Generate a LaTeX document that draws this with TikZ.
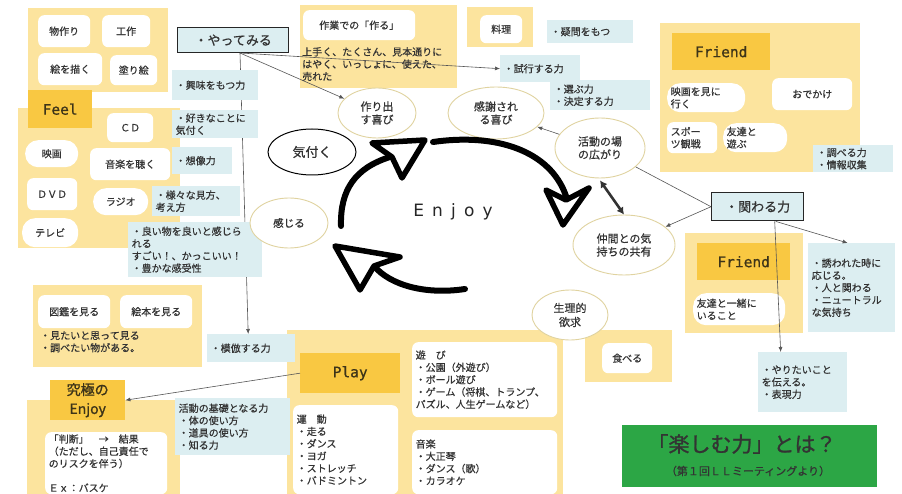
\documentclass[tikz,border=0pt]{standalone}
\usepackage{fontspec}
\setmainfont{Noto Sans CJK JP}[FakeBold=0.6]
\newfontfamily\monof{DejaVu Sans Mono}[FakeBold=0.8]
\newfontfamily\spacedf[LetterSpace=48]{DejaVu Sans}
\newfontfamily\titlef{Noto Sans CJK JP}[FakeBold=1.2]
\usetikzlibrary{arrows.meta,shapes.geometric,calc}
\pgfdeclarelayer{bgw}
\pgfdeclarelayer{bg}
\pgfsetlayers{bgw,bg,main}
\definecolor{ylight}{HTML}{FCE49E}
\definecolor{ydark}{HTML}{F9C842}
\definecolor{bluec}{HTML}{DCEEF1}
\definecolor{beige}{HTML}{E0D3A0}
\definecolor{greenc}{HTML}{2CA645}
\definecolor{txtc}{HTML}{333333}
\definecolor{hdrt}{HTML}{3D3418}
\definecolor{linec}{HTML}{555555}
\newcommand\tfont{\fontsize{10}{12.3}\selectfont}
\newcommand\BX[7]{\node[#1,anchor=north west,minimum width={#5-#3},minimum height={#6-#4}] (#2) at (#3,#4) {#7};}
\newcommand\BXL[7]{\node[#1,anchor=north west,minimum width={#5-#3},minimum height={#6-#4}] (#2) at (#3,#4) {};
  \node[txt,anchor=west] (#2t) at ([xshift=3.5pt]#2.west) {#7};}
\begin{document}
\begin{tikzpicture}[x=1pt,y=-1pt,
  panel/.style={fill=ylight,draw=none,inner sep=0pt},
  hdr/.style={fill=ydark,draw=none,inner sep=0pt,font=\monof\fontsize{14.5}{14.5}\selectfont,text=hdrt},
  wb/.style={fill=white,draw=none,rounded corners=6pt,font=\tfont,text=txtc,inner sep=0pt,align=center},
  pill/.style={wb,rounded corners=13pt},
  bb/.style={fill=bluec,draw=none,inner sep=0pt,font=\tfont,text=txtc},
  kbox/.style={fill=bluec,draw=black!85,line width=1.4pt,inner sep=0pt,font=\fontsize{13}{13}\selectfont,text=txtc},
  txt/.style={font=\tfont,text=txtc,align=left,inner sep=0pt},
  ell/.style={ellipse,draw=beige,line width=0.9pt,fill=white,font=\fontsize{11}{13}\selectfont,align=center,inner sep=0pt,text=txtc},
  con/.style={draw=linec,line width=0.6pt},
  arr/.style={con,-{Latex[length=5pt,width=4pt]}},
  big/.style={line width=6pt,line cap=round,line join=round,draw=black},
  bighead/.style={big,line width=5.5pt,fill=white}]
\useasboundingbox (0,0) rectangle (902,494);
\begin{pgfonlayer}{bgw}\fill[white] (0,0) rectangle (902,494);\end{pgfonlayer}

% ---------- panels ----------
\BX{panel}{p1}{28}{8}{168}{92}{}
\BX{panel}{pfeel}{18}{108}{180}{248}{}
\BX{panel}{pzukan}{33}{285}{202}{367}{}
\BX{panel}{pkyu}{27}{400}{180}{494}{}
\BX{panel}{psagyo}{300}{5}{457}{88}{}
\BX{panel}{pryori}{467}{7}{533}{47}{}
\BX{panel}{pfr1}{660}{23}{860}{172}{}
\BX{panel}{pfr2}{685}{233}{803}{333}{}
\BX{panel}{pplay}{287}{330}{563}{494}{}
\BX{panel}{ptaberu}{585}{330}{672}{382}{}

% ---------- headers ----------
\BX{hdr}{feel}{28}{90}{92}{128}{Feel}
\BX{hdr}{friend1}{672}{33}{770}{70}{Friend}
\BX{hdr}{friend2}{697}{243}{790}{280}{Friend}
\BX{hdr}{play}{300}{353}{400}{393}{Play}
\node[hdr,anchor=north west,minimum width=75,minimum height=40,align=center,font=\titlef\fontsize{14}{19}\selectfont] (kyu) at (50,380) {究極の\\Enjoy};

% ---------- white boxes ----------
\BX{wb}{monotsukuri}{38}{15}{90}{47}{物作り}
\BX{wb}{kousaku}{102}{15}{150}{47}{工作}
\BX{wb}{ewokaku}{38}{53}{102}{85}{絵を描く}
\BX{wb}{nurie}{110}{55}{157}{85}{塗り絵}
\BX{wb}{cd}{107}{113}{153}{142}{ＣＤ}
\BX{pill}{eiga}{25}{140}{78}{167}{映画}
\BX{wb}{ongaku}{90}{148}{170}{180}{音楽を聴く}
\BX{wb}{dvd}{27}{178}{77}{210}{ＤＶＤ}
\BX{pill}{radio}{93}{188}{148}{215}{ラジオ}
\BX{pill}{terebi}{22}{218}{78}{247}{テレビ}
\BX{wb}{zukan}{38}{295}{110}{328}{図鑑を見る}
\BX{wb}{ehon}{120}{295}{192}{328}{絵本を見る}
\node[txt,anchor=north west] (zukant) at (40,331) {・見たいと思って見る\\・調べたい物がある。};
\BXL{wb}{handan}{45}{432}{167}{494}{「判断」　→　結果\\（ただし、自己責任で\\のリスクを伴う）\\[12pt]Ｅｘ：バスケ}
\BX{wb}{sagyo}{303}{10}{415}{40}{作業での「作る」}
\node[txt,anchor=north west] (sagyot) at (302,47) {上手く、たくさん、見本通りに\\はやく、いっしょに、使えた、\\売れた};
\BX{wb}{ryori}{480}{15}{522}{43}{料理}
\BXL{pill}{eigami}{667}{83}{745}{112}{映画を見に\\行く}
\BX{wb}{odekake}{772}{78}{852}{110}{おでかけ}
\BXL{wb}{sports}{667}{122}{717}{153}{スポー\\ツ観戦}
\BXL{pill}{asobu}{723}{123}{787}{152}{友達と\\遊ぶ}
\BXL{pill}{issho}{693}{293}{785}{325}{友達と一緒に\\いること}
\BXL{wb}{undou}{293}{405}{398}{494}{運　動\\・走る\\・ダンス\\・ヨガ\\・ストレッチ\\・バドミントン}
\BXL{wb}{asobi}{412}{342}{557}{417}{遊　び\\・公園（外遊び）\\・ボール遊び\\・ゲーム（将棋、トランプ、\\パズル、人生ゲームなど）}
\BXL{wb}{ongaku2}{412}{430}{557}{494}{音楽\\・大正琴\\・ダンス（歌）\\・カラオケ}
\BX{wb}{taberu}{602}{343}{652}{373}{食べる}

% ---------- blue boxes ----------
\BXL{bb}{kyomi}{172}{70}{258}{100}{・興味をもつ力}
\BXL{bb}{suki}{172}{110}{258}{138}{・好きなことに\\気付く}
\BXL{bb}{souzou}{172}{147}{232}{174}{・想像力}
\BXL{bb}{samazama}{152}{186}{240}{216}{・様々な見方、\\考え方}
\BXL{bb}{yoimono}{128}{222}{262}{277}{・良い物を良いと感じら\\れる\\すごい！、かっこいい！\\・豊かな感受性}
\BXL{bb}{mohou}{207}{334}{295}{362}{・模倣する力}
\BXL{bb}{kiso}{175}{398}{290}{455}{活動の基礎となる力\\・体の使い方\\・道具の使い方\\・知る力}
\BXL{bb}{gimon}{547}{20}{633}{43}{・疑問をもつ}
\BXL{bb}{shikou}{500}{55}{580}{82}{・試行する力}
\BXL{bb}{erabu}{550}{80}{650}{110}{・選ぶ力\\・決定する力}
\BXL{bb}{shiraberu}{813}{145}{893}{172}{・調べる力\\・情報収集}
\BXL{bb}{sasowa}{808}{243}{895}{332}{・誘われた時に\\応じる。\\・人と関わる\\・ニュートラル\\な気持ち}
\BXL{bb}{yaritai}{758}{352}{847}{412}{・やりたいこと\\を伝える。\\・表現力}
\BX{kbox}{yatte}{177}{27}{288}{52}{・やってみる}
\BX{kbox}{kakawaru}{711}{192}{803}{220}{・関わる力}

% ---------- ellipses ----------
\node[ell,minimum width=78,minimum height=50] (tukuri) at (377,113) {作り出\\す喜び};
\node[ell,draw=black,line width=1pt,minimum width=88,minimum height=46,font=\fontsize{13}{13}\selectfont] (kizuku) at (312,152) {気付く};
\node[ell,minimum width=96,minimum height=52] (kansha) at (496,113) {感謝され\\る喜び};
\node[ell,minimum width=90,minimum height=60] (katsudou) at (600,148) {活動の場\\の広がり};
\node[ell,minimum width=102,minimum height=60] (nakama) at (624,245) {仲間との気\\持ちの共有};
\node[ell,minimum width=78,minimum height=50,font=\fontsize{10.5}{13}\selectfont] (kanjiru) at (289,223) {感じる};
\node[ell,minimum width=76,minimum height=50,font=\fontsize{11}{14}\selectfont] (seiri) at (570,315) {生理的\\欲求};

% ---------- green title ----------
\node[fill=greenc,anchor=north west,minimum width=255,minimum height=62,inner sep=0pt] (title) at (622,425) {};
\node[font=\titlef\fontsize{21}{21}\selectfont,text=txtc] (titlet) at (742,444) {「楽しむ力」とは？};
\node[font=\fontsize{11}{11}\selectfont,text=txtc] (titles) at (748,471) {（第１回ＬＬミーティングより）};

% ---------- Enjoy ----------
\node[font=\spacedf\fontsize{17}{17}\selectfont,text=black!85] (enjoy) at (453,212) {Enjoy};

% ---------- connectors ----------
\coordinate (ys) at (240,53);
\begin{pgfonlayer}{bg}
\draw[arr] (ys) -- ([xshift=-3pt]mohou.north);
\end{pgfonlayer}
\draw[arr] (ys) -- (tukuri);
\draw[arr] (ys) -- (shikou.west);
\draw[arr] (katsudou) -- (kansha);
\draw[con] (kakawaru.west) -- (katsudou);
\draw[arr] (kakawaru.west) -- (nakama);
\draw[arr] ([xshift=18pt]kakawaru.south) -- ([xshift=-4pt]sasowa.north);
\draw[arr] ([xshift=17pt]kakawaru.south) -- ([xshift=-22pt]yaritai.north);
\draw[arr] (play.west) -- (kyu.east);
\draw[line width=2.6pt,draw=black!80,{Latex[length=7pt,width=8pt]}-{Latex[length=7pt,width=8pt]}] ([yshift=-2pt]katsudou.south) -- (nakama.north);

% ---------- big cycle arrows ----------
\draw[big] (341,226) .. controls (340,190) and (355,168) .. (390,157);
\draw[bighead] (425,140) -- (372,143) -- (392,157) -- (402,178) -- cycle;
\draw[big] (433,142) .. controls (495,133) and (550,150) .. (566,196);
\draw[bighead] (563,225) -- (546,190) -- (566,200) -- (589,188) -- cycle;
\draw[big] (465,289) .. controls (425,295) and (390,285) .. (374,266);
\draw[bighead] (335,246) -- (400,257) -- (374,266) -- (360,290) -- cycle;
\end{tikzpicture}
\end{document}
